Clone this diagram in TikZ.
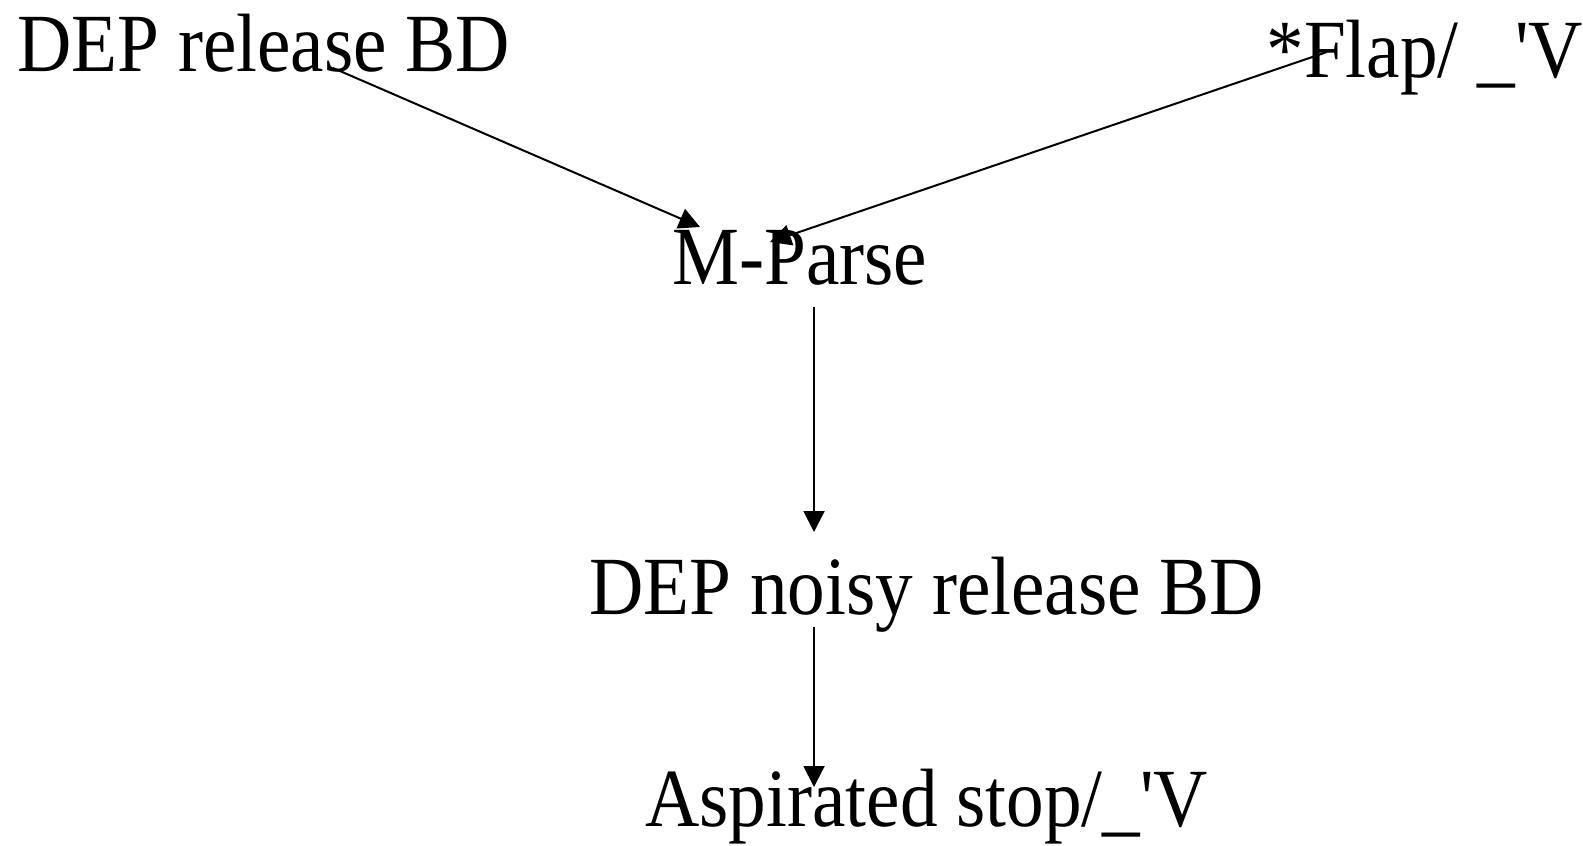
\documentclass[tikz,border=0pt]{standalone}
\usepackage{fontspec}
\setmainfont{Liberation Serif}[Ligatures=TeXOff]
\usetikzlibrary{arrows.meta, positioning}
\newcommand{\tallt}[1]{\scalebox{1}[1.1]{#1}} % the labels are a little stretched upward
\tikzset{
>={Triangle[width=10.5pt,length=10.5pt]}, % filled triangle heads
x=0.5pt, y=-0.5pt, % one unit is one pixel of the reference, y runs down
every node/.style={inner sep=0pt, anchor=base west, font=\fontsize{37.6}{38}\selectfont}, % plain text labels
link/.style={->, line width=1pt}, % sets the look of each connector
}
\begin{document}
\begin{tikzpicture}
    \useasboundingbox (0,0) rectangle (1583,845);
    \node (rel) at (17,72) {\tallt{DEP release BD}};
    \node (flap) at (1266,78) {\tallt{*Flap/ \_'V}};
    \node (mparse) at (672,285) {\tallt{M-Parse}};
    \node (noisy) at (589,614) {\tallt{DEP noisy release BD}};
    \node (asp) at (645,826) {\tallt{Aspirated stop/\_'V}};
    \draw[link] ([shift={(316,-4)}]rel.base west) -- ([shift={(28,-58)}]mparse.base west);
    \draw[link] ([shift={(61,-26)}]flap.base west) -- ([shift={(98,-43)}]mparse.base west);
    \draw[link] ([shift={(142,22)}]mparse.base west) -- ([shift={(225,-82)}]noisy.base west);
    \draw[link] ([shift={(225,13)}]noisy.base west) -- ([shift={(169,-39)}]asp.base west);
\end{tikzpicture}
\end{document}
